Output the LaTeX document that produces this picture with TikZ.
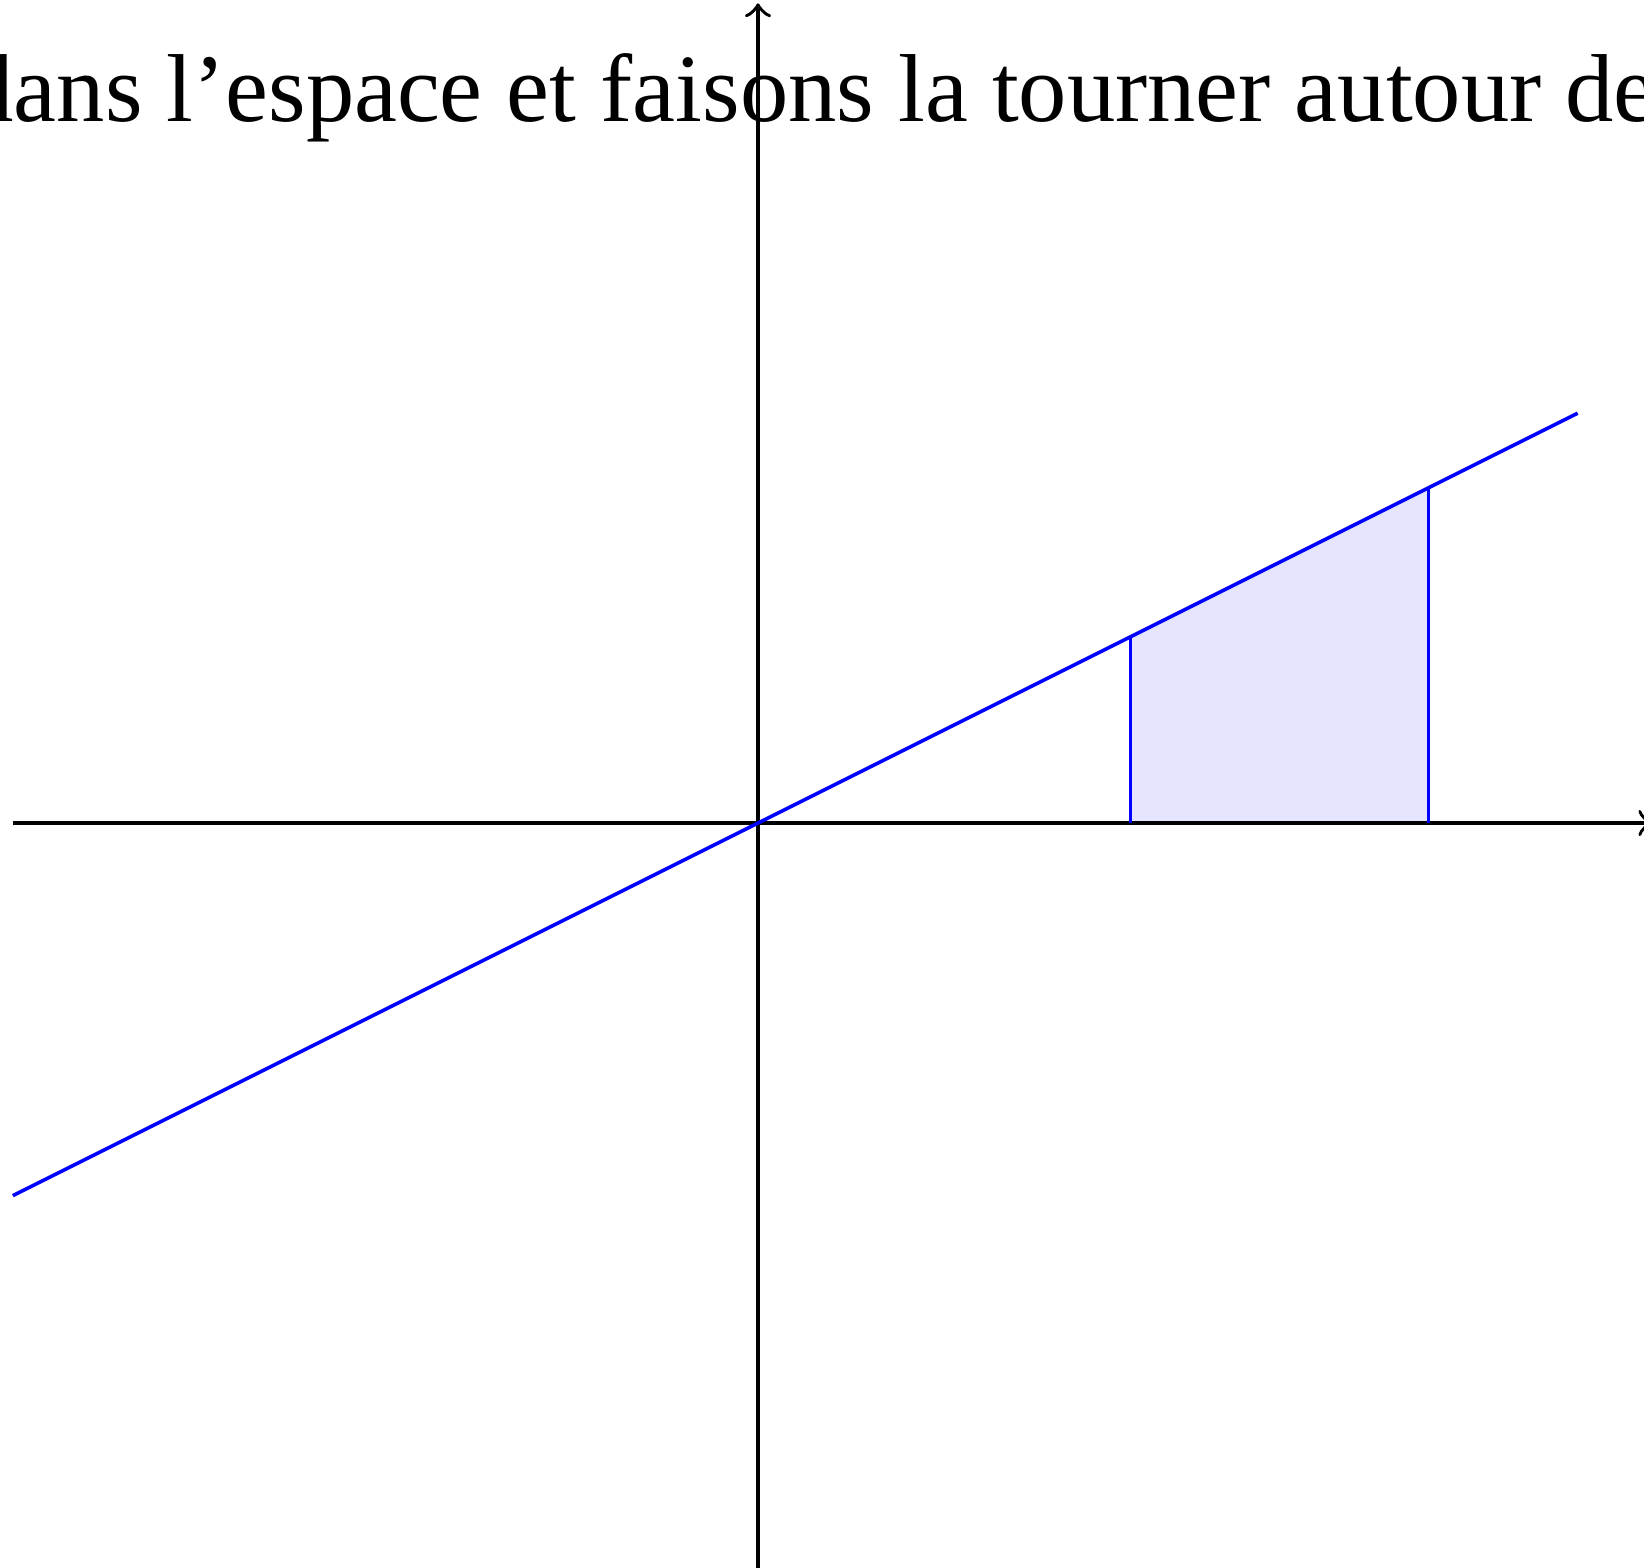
\documentclass[tikz,border=0pt]{standalone}
\usepackage{fontspec}
\setmainfont{Liberation Serif}
\begin{document}
\begin{tikzpicture}[
  axis/.style={black, line width=0.55pt},
  curve/.style={blue, line width=0.55pt},
  region/.style={fill=blue!10, draw=none}
]
\useasboundingbox (-4.069,-3.994) rectangle (4.756,4.418);
\clip (-4.069,-3.994) rectangle (4.756,4.418);
\node[anchor=base west, inner sep=0pt, font=\fontsize{14.74}{17}\selectfont] (txt) at (-4.26,3.764) {dans l’espace et faisons la tourner autour de l’axe};
\fill[region] (2,0) -- (2,1) -- (3.6,1.8) -- (3.6,0) -- cycle;
\draw[axis,->] (-4,0) -- (4.8,0);
\draw[axis,->] (0,-4.2) -- (0,4.4);
\draw[curve] (-4,-2) -- (4.4,2.2);
\draw[curve] (2,0) -- (2,1);
\draw[curve] (3.6,0) -- (3.6,1.8);
\end{tikzpicture}
\end{document}
